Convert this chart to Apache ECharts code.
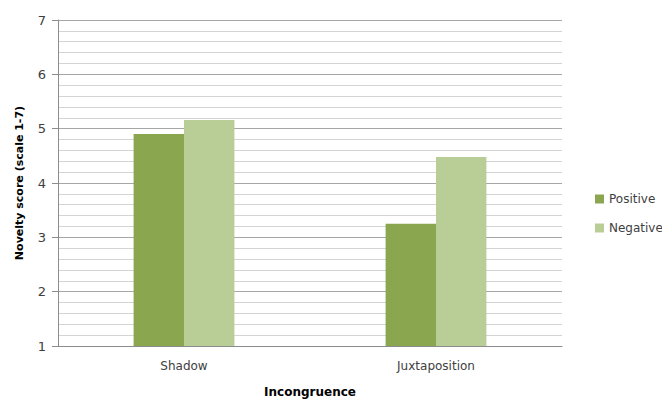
<!DOCTYPE html>
<html>
<head>
<meta charset="utf-8">
<script src="https://cdn.jsdelivr.net/npm/echarts@6/dist/echarts.min.js"></script>
<style>
  html, body { margin: 0; padding: 0; background: #fff; }
  #chart { width: 662px; height: 401px; }
</style>
</head>
<body>
<div id="chart"></div>
<script>
var categories = ['Shadow', 'Juxtaposition'];
var positive = [4.90, 3.25];
var negative = [5.16, 4.48];

var ink = '#404040';
var chart = echarts.init(document.getElementById('chart'), null, { renderer: 'svg' });
chart.setOption({
  animation: false,
  textStyle: { fontFamily: 'DejaVu Sans' },
  legend: {
    orient: 'vertical',
    left: 590,
    top: 188,
    itemWidth: 9,
    itemHeight: 9,
    itemGap: 17,
    icon: 'rect',
    textStyle: { color: ink, fontSize: 12 },
    data: ['Positive', 'Negative']
  },
  grid: { left: 58, right: 100, top: 20, bottom: 55, outerBoundsMode: 'none' },
  xAxis: {
    type: 'category',
    data: categories,
    name: 'Incongruence',
    nameLocation: 'center',
    nameGap: 40,
    nameTextStyle: { color: '#000', fontSize: 12, fontWeight: 'bold' },
    axisLine: { lineStyle: { color: '#8c8c8c' } },
    axisTick: { show: false },
    axisLabel: { color: ink, fontSize: 12, margin: 14 }
  },
  yAxis: {
    type: 'value',
    min: 1,
    max: 7,
    interval: 1,
    name: 'Novelty score (scale 1-7)',
    nameLocation: 'center',
    nameGap: 33,
    nameTextStyle: { color: '#000', fontSize: 11, fontWeight: 'bold' },
    axisLine: { show: true, lineStyle: { color: '#8c8c8c' } },
    axisTick: { show: true, length: 6, lineStyle: { color: '#8c8c8c' } },
    axisLabel: { color: ink, fontSize: 13, margin: 12 },
    splitLine: { lineStyle: { color: '#a6a6a6' } },
    minorTick: { show: false, splitNumber: 5 },
    minorSplitLine: { show: true, lineStyle: { color: '#d4d4d4' } }
  },
  series: [
    { name: 'Positive', type: 'bar', data: positive, barGap: '0%', barCategoryGap: '60%', itemStyle: { color: '#8aa64e' } },
    { name: 'Negative', type: 'bar', data: negative, itemStyle: { color: '#b9ce96' } }
  ]
});
</script>
</body>
</html>
